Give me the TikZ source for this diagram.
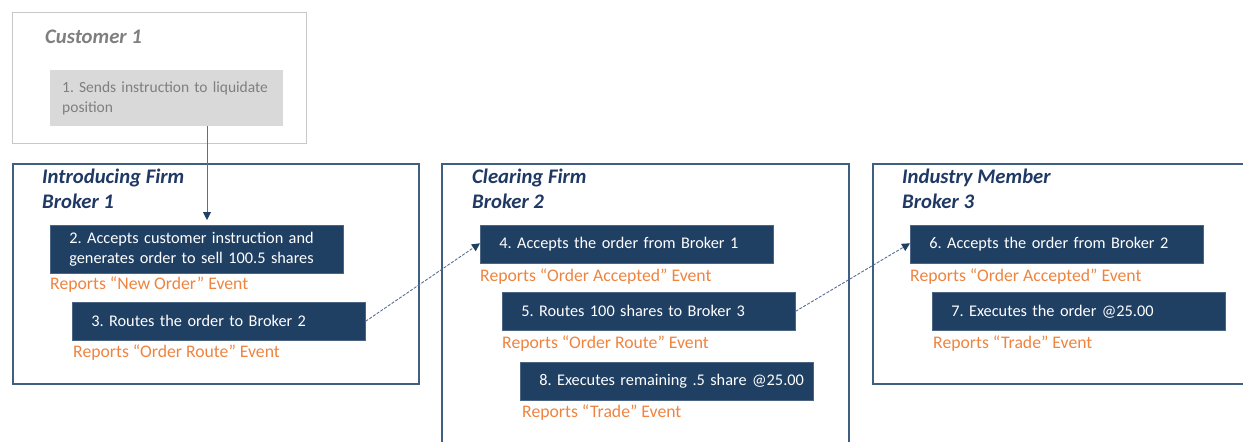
\documentclass[tikz,border=0pt]{standalone}
\usepackage{fontspec}
\setmainfont{Carlito}
\usetikzlibrary{arrows.meta}
\definecolor{navy}{HTML}{1F3F63}
\definecolor{framec}{HTML}{3F5F80}
\definecolor{titlec}{HTML}{1F3864}
\definecolor{orangec}{HTML}{EF8440}
\definecolor{lgray}{HTML}{C8C8C8}
\definecolor{boxgray}{HTML}{D9D9D9}
\definecolor{tgray}{HTML}{7F7F7F}
\definecolor{linec}{HTML}{5A6E95}
\tikzset{
  frame/.style={draw=framec, line width=1.8pt, anchor=north west, inner sep=0pt},
  ttl/.style={anchor=north west, inner sep=0pt, align=left, text=titlec, font=\fontsize{20.7}{25}\selectfont\bfseries\itshape},
  darkbox/.style={fill=navy, draw=navy!80!white, line width=0.6pt, anchor=north west, text=white, minimum width=293pt, minimum height=38pt, inner xsep=19pt, text width=255pt, align=left, font=\fontsize{16.3}{20}\selectfont},
  rep/.style={anchor=west, inner sep=0pt, text=orangec, font=\fontsize{17.7}{20}\selectfont},
  flow/.style={draw=linec, line width=0.9pt, -{Triangle[length=8pt,width=8pt,color=navy]}},
  dflow/.style={flow, dashed, dash pattern=on 3pt off 1.5pt}
}
\begin{document}
\frenchspacing
\begin{tikzpicture}[x=1pt,y=-1pt]
\clip (0,0) rectangle (1243,442);
\fill[white] (0,0) rectangle (1243,442);
% Customer
\node[draw=lgray, line width=1pt, anchor=north west, minimum width=294pt, minimum height=131pt, inner sep=0pt] (cust) at (12,12) {};
\node[anchor=west, inner sep=0pt, text=tgray, font=\fontsize{20.7}{25}\selectfont\bfseries\itshape] (custt) at (45,37) {Customer 1};
\node[fill=boxgray, anchor=north west, minimum width=233pt, minimum height=56pt, inner xsep=12pt, text width=209pt, align=left, text=tgray, font=\fontsize{15.5}{20}\selectfont] (b1) at (50,70) {\mbox{1. Sends instruction to liquidate}\\position};
% Introducing Firm
\node[frame, minimum width=406pt, minimum height=220pt] (f1) at (12,163) {};
\node[ttl] (t1) at (42,169) {Introducing Firm\\Broker 1};
\node[darkbox, minimum height=48pt] (b2) at (50,225) {\mbox{2. Accepts customer instruction and}\\\mbox{generates order to sell 100.5 shares}};
\node[rep] (r2) at (50,285) {Reports “New Order” Event};
\node[darkbox] (b3) at (72,302) {\mbox{3. Routes the order to Broker 2}};
\node[rep] (r3) at (73,353) {Reports “Order Route” Event};
% Clearing Firm
\node[frame, minimum width=407pt, minimum height=300pt] (f2) at (441,163) {};
\node[ttl] (t2) at (472,169) {Clearing Firm\\Broker 2};
\node[darkbox] (b4) at (480,225) {\mbox{4. Accepts the order from Broker 1}};
\node[rep] (r4) at (480,277) {Reports “Order Accepted” Event};
\node[darkbox] (b5) at (502,292) {\mbox{5. Routes 100 shares to Broker 3}};
\node[rep] (r5) at (502,344) {Reports “Order Route” Event};
\node[darkbox] (b8) at (520,362) {\mbox{8. Executes remaining .5 share @25.00}};
\node[rep] (r8) at (522,413) {Reports “Trade” Event};
% Industry Member
\node[frame, minimum width=420pt, minimum height=220pt] (f3) at (872,163) {};
\node[ttl] (t3) at (902,169) {Industry Member\\Broker 3};
\node[darkbox] (b6) at (910,225) {\mbox{6. Accepts the order from Broker 2}};
\node[rep] (r6) at (910,277) {Reports “Order Accepted” Event};
\node[darkbox] (b7) at (932,292) {\mbox{7. Executes the order @25.00}};
\node[rep] (r7) at (933,344) {Reports “Trade” Event};
% connectors
\coordinate (c1) at (207,126);
\coordinate (c2) at (207,220);
\draw[flow] (c1) -- (c2);
\draw[dflow] (b3.east) -- ([yshift=1pt]b4.west);
\draw[dflow] (b5.east) -- ([yshift=1pt]b6.west);
\end{tikzpicture}
\end{document}
